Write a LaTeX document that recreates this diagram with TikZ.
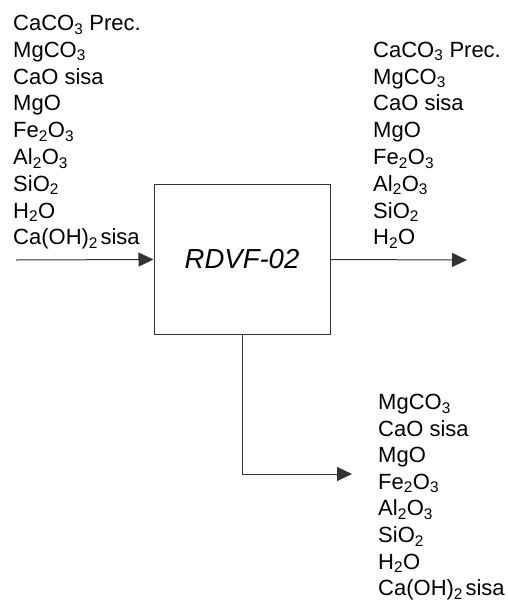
\documentclass[tikz,border=0pt]{standalone}
\usepackage{fontspec}
\setmainfont{Liberation Sans}
\usetikzlibrary{arrows.meta}
\newcommand{\sisagap}{\hspace{2.5pt}}
\begin{document}
\begin{tikzpicture}[x=1pt,y=-1pt,
  lbl/.style={anchor=base west,inner sep=0pt,font=\fontsize{22}{26.8}\selectfont},
  flow/.style={draw=black!80,line width=1pt,-{Triangle[length=15pt,width=14pt]}},
  unit/.style={draw=black!80,line width=1pt,minimum width=176pt,minimum height=150pt,inner sep=0pt,font=\fontsize{27.5}{30}\selectfont\itshape}]
\useasboundingbox (0,0) rectangle (508,603);
\node[unit] (r) at (242,259.5) {RDVF-02};
\coordinate (in) at (16,260);
\coordinate (out) at (467,260);
\coordinate (bot) at (352,474);
\draw[flow] (in) -- (r.west);
\draw[flow] (r.east) -- (out);
\draw[flow] (r.south) |- (bot);
% left list
\foreach \t [count=\i from 0] in {CaCO\textsubscript{3} Prec.,MgCO\textsubscript{3},CaO sisa,MgO,Fe\textsubscript{2}O\textsubscript{3},Al\textsubscript{2}O\textsubscript{3},SiO\textsubscript{2},H\textsubscript{2}O,Ca(OH)\textsubscript{2}\sisagap sisa}
  \node[lbl] (a\i) at (13,30.5+26.8*\i) {\t};
% right list
\foreach \t [count=\i from 0] in {CaCO\textsubscript{3} Prec.,MgCO\textsubscript{3},CaO sisa,MgO,Fe\textsubscript{2}O\textsubscript{3},Al\textsubscript{2}O\textsubscript{3},SiO\textsubscript{2},H\textsubscript{2}O}
  \node[lbl] (b\i) at (373,57.3+26.8*\i) {\t};
% bottom list
\foreach \t [count=\i from 0] in {MgCO\textsubscript{3},CaO sisa,MgO,Fe\textsubscript{2}O\textsubscript{3},Al\textsubscript{2}O\textsubscript{3},SiO\textsubscript{2},H\textsubscript{2}O,Ca(OH)\textsubscript{2}\sisagap sisa}
  \node[lbl] (c\i) at (378,409.5+26.6*\i) {\t};
\end{tikzpicture}
\end{document}
